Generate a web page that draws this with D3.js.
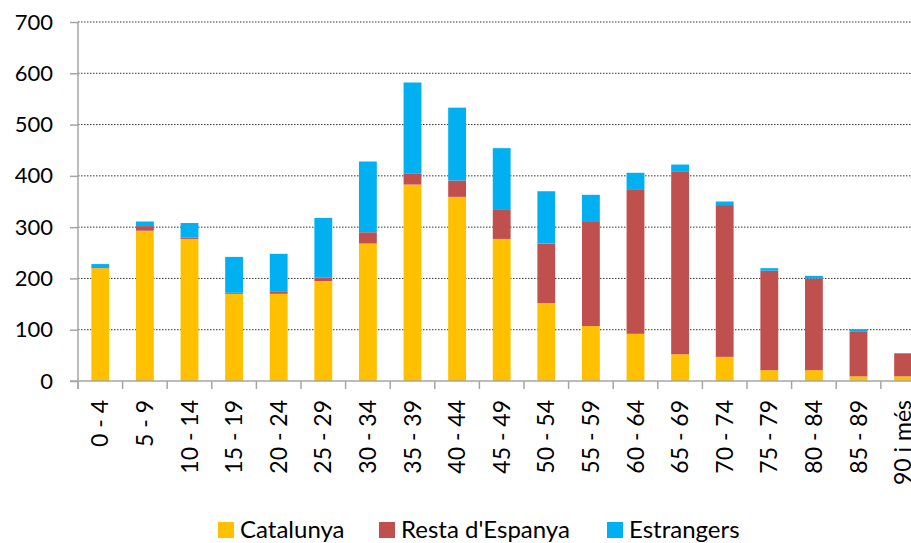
<!DOCTYPE html>
<html lang="ca">
<head>
<meta charset="UTF-8"/>
<title>Població per edats i origen</title>
<script src="https://d3js.org/d3.v7.min.js"></script>
<style>
	body { margin: 0; background: #fff; }
	svg { display: block; font-family: Lato, "Open Sans", sans-serif; }
</style>
</head>
<body>
<script>
	// age groups and the three stacked series
	var categories = ["0 - 4","5 - 9","10 - 14","15 - 19","20 - 24","25 - 29","30 - 34","35 - 39","40 - 44","45 - 49",
		"50 - 54","55 - 59","60 - 64","65 - 69","70 - 74","75 - 79","80 - 84","85 - 89","90 i més"];
	var catalunya  = [220,293,277,170,170,195,268,383,359,277,152,107, 92, 52, 47, 21, 21,  9,  9];
	var restaEsp   = [  2,  9,  3,  2,  5,  7, 22, 22, 32, 58,116,203,282,357,296,194,179, 88, 45];
	var estrangers = [  6,  9, 28, 70, 73,116,138,177,142,119,102, 53, 32, 13,  7,  5,  5,  4,  0];
	var seriesNames = ["Catalunya","Resta d'Espanya","Estrangers"];
	var yTicks = [0,100,200,300,400,500,600,700];

	var colors = ["#FFC000","#C0504D","#00B0F0"];

	var w = 911, h = 543;
	var plotLeft = 78, plotTop = 22, plotBottom = 381;
	var band = 44.6;
	var plotRight = plotLeft + band*categories.length;

	var rows = categories.map(function(c,i){
		return {cat:c, "Catalunya":catalunya[i], "Resta d'Espanya":restaEsp[i], "Estrangers":estrangers[i]};
	});
	var stacked = d3.stack().keys(seriesNames)(rows);

	var xScale = d3.scaleBand().domain(categories).range([plotLeft,plotRight]).paddingInner(0.6).paddingOuter(0.3);
	var yScale = d3.scaleLinear().domain([0,700]).range([plotBottom,plotTop]);

	var svg = d3.select("body").append("svg").attr("width",w).attr("height",h);

	// dotted gridlines
	svg.selectAll("line.grid").data(yTicks.slice(1)).enter().append("line")
		.attr("class","grid")
		.attr("x1",plotLeft).attr("x2",plotRight)
		.attr("y1",function(d){ return yScale(d); })
		.attr("y2",function(d){ return yScale(d); })
		.attr("stroke","#333").attr("stroke-width",1)
		.attr("stroke-dasharray","1.5,1.5");

	// bars
	svg.selectAll("g.series").data(stacked).enter().append("g")
		.attr("class","series")
		.attr("fill",function(d,i){ return colors[i]; })
		.selectAll("rect").data(function(d){ return d; }).enter().append("rect")
		.attr("x",function(d){ return xScale(d.data.cat); })
		.attr("width",xScale.bandwidth())
		.attr("y",function(d){ return yScale(d[1]); })
		.attr("height",function(d){ return yScale(d[0]) - yScale(d[1]); });

	// y axis
	var yAxis = d3.axisLeft(yScale).tickValues(yTicks).tickSize(8).tickPadding(17);
	var gy = svg.append("g").attr("transform","translate("+plotLeft+",0)").call(yAxis);
	gy.select(".domain").attr("stroke","#a6a6a6").attr("stroke-width",1.5).attr("d","M0,"+(plotBottom+8)+"V"+plotTop);
	gy.selectAll(".tick line").attr("stroke","#a6a6a6").attr("stroke-width",1.5);
	gy.selectAll("text").attr("font-size","22px").attr("fill","#000").attr("font-family","Lato, 'Open Sans', sans-serif");

	// x axis with boundary ticks
	var gx = svg.append("g");
	gx.append("line").attr("x1",plotLeft-8).attr("x2",plotRight).attr("y1",plotBottom).attr("y2",plotBottom)
		.attr("stroke","#a6a6a6").attr("stroke-width",1.5);
	var bounds = d3.range(categories.length+1).map(function(i){ return plotLeft + i*band; });
	gx.selectAll("line.xt").data(bounds).enter().append("line")
		.attr("class","xt")
		.attr("x1",function(d){ return d; }).attr("x2",function(d){ return d; })
		.attr("y1",plotBottom).attr("y2",plotBottom+8)
		.attr("stroke","#a6a6a6").attr("stroke-width",1.5);
	gx.selectAll("text").data(categories).enter().append("text")
		.text(function(d){ return d; })
		.attr("transform",function(d){
			var cx = xScale(d) + xScale.bandwidth()/2;
			return "translate("+(cx+8)+","+400+") rotate(-90)";
		})
		.attr("text-anchor","end")
		.attr("font-size","23px")
		.attr("fill","#000");

	// legend
	var legendX = [218,379,607];
	var lg = svg.selectAll("g.legend").data(seriesNames).enter().append("g")
		.attr("class","legend")
		.attr("transform",function(d,i){ return "translate("+legendX[i]+",522)"; });
	lg.append("rect").attr("width",16).attr("height",16)
		.attr("fill",function(d,i){ return colors[i]; });
	lg.append("text").text(function(d){ return d; })
		.attr("x",22).attr("y",16)
		.attr("font-size","24px").attr("fill","#000");
</script>
</body>
</html>
